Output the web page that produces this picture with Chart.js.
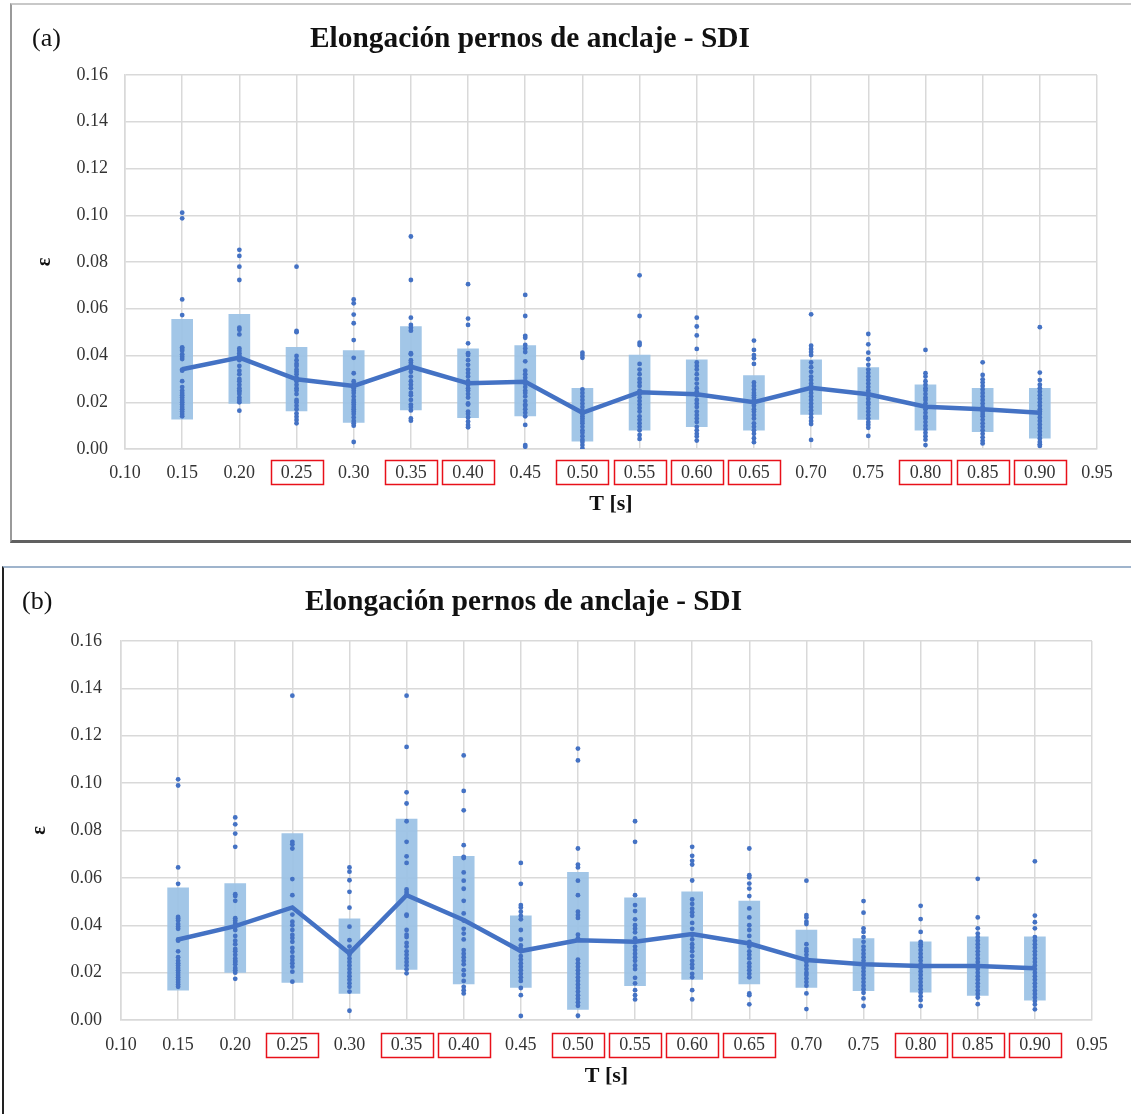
<!DOCTYPE html>
<html>
<head>
<meta charset="utf-8">
<script src="https://cdn.jsdelivr.net/npm/chart.js@4.4.1/dist/chart.umd.min.js"></script>
<style>
  body { margin: 0; background: #fff; }
  #wrap { position: relative; width: 1131px; height: 1114px; overflow: hidden; }
  canvas { position: absolute; left: 0; }
  #chartA { top: 0; }
  #chartB { top: 560px; }
  .frameA { position: absolute; left: 10px; top: 3px; width: 1121px; height: 535px;
            border-left: 2px solid #9a9a9a; border-top: 2px solid #c8c8c8; border-bottom: 3px solid #606060; }
  .frameB { position: absolute; left: 2px; top: 566px; width: 1129px; height: 548px;
            border-left: 2px solid #222; border-top: 2px solid #9fb4cc; }
</style>
</head>
<body>
<div id="wrap">
  <div class="frameA"></div>
  <div class="frameB"></div>
  <canvas id="chartA" width="1131" height="540"></canvas>
  <canvas id="chartB" width="1131" height="554"></canvas>
</div>
<script>
// periods T [s]
const periods = [0.15, 0.20, 0.25, 0.30, 0.35, 0.40, 0.45, 0.50, 0.55, 0.60, 0.65, 0.70, 0.75, 0.80, 0.85, 0.90];
// tick labels framed in red
const flagged = [0.25, 0.35, 0.40, 0.50, 0.55, 0.60, 0.65, 0.80, 0.85, 0.90];

// panel (a)
const meanA = [0.0341, 0.0391, 0.0298, 0.0270, 0.0352, 0.0281, 0.0288, 0.0155, 0.0243, 0.0234, 0.0200, 0.0262, 0.0234, 0.0181, 0.0170, 0.0155];
const lowA  = [0.0128, 0.0195, 0.0163, 0.0114, 0.0167, 0.0134, 0.0141, 0.0034, 0.0081, 0.0096, 0.0081, 0.0148, 0.0127, 0.0081, 0.0074, 0.0046];
const highA = [0.0555, 0.0576, 0.0435, 0.0421, 0.0524, 0.0429, 0.0442, 0.0260, 0.0402, 0.0381, 0.0314, 0.0381, 0.0348, 0.0274, 0.0260, 0.0260];
const pointsA = [
  [0.1011, 0.0987, 0.064, 0.0573, 0.0435, 0.0428, 0.042, 0.0405, 0.0395, 0.0385, 0.034, 0.0335, 0.029, 0.0265, 0.025, 0.024, 0.023, 0.022, 0.021, 0.020, 0.019, 0.018, 0.017, 0.016, 0.015, 0.014],
  [0.0852, 0.0826, 0.078, 0.0723, 0.0519, 0.051, 0.049, 0.043, 0.042, 0.041, 0.040, 0.038, 0.0355, 0.0335, 0.032, 0.030, 0.029, 0.0275, 0.026, 0.025, 0.0245, 0.0235, 0.022, 0.021, 0.020, 0.0164],
  [0.078, 0.0505, 0.050, 0.0398, 0.038, 0.0365, 0.0355, 0.034, 0.033, 0.032, 0.0305, 0.030, 0.029, 0.0275, 0.026, 0.025, 0.0235, 0.021, 0.020, 0.0185, 0.017, 0.0152, 0.0138, 0.0124, 0.011],
  [0.064, 0.0623, 0.0575, 0.0538, 0.0466, 0.039, 0.0324, 0.029, 0.0278, 0.027, 0.026, 0.025, 0.024, 0.0225, 0.021, 0.020, 0.019, 0.018, 0.017, 0.016, 0.015, 0.0135, 0.012, 0.011, 0.010, 0.003],
  [0.0909, 0.0723, 0.0562, 0.0531, 0.0519, 0.0506, 0.041, 0.0405, 0.038, 0.037, 0.036, 0.0345, 0.033, 0.031, 0.029, 0.0275, 0.026, 0.024, 0.023, 0.021, 0.019, 0.018, 0.0165, 0.0131, 0.0121],
  [0.0705, 0.0558, 0.0531, 0.0452, 0.041, 0.0402, 0.038, 0.036, 0.034, 0.0325, 0.031, 0.029, 0.0275, 0.026, 0.025, 0.0235, 0.022, 0.0195, 0.019, 0.016, 0.015, 0.0135, 0.0118, 0.0103, 0.0093],
  [0.0659, 0.0569, 0.0484, 0.0476, 0.0445, 0.043, 0.0415, 0.0375, 0.0335, 0.032, 0.0305, 0.029, 0.028, 0.0265, 0.025, 0.024, 0.0225, 0.0205, 0.019, 0.0185, 0.017, 0.0155, 0.014, 0.0103, 0.0017, 0.001],
  [0.0412, 0.0402, 0.039, 0.0255, 0.024, 0.0225, 0.021, 0.0195, 0.018, 0.0165, 0.016, 0.015, 0.014, 0.013, 0.012, 0.011, 0.0095, 0.008, 0.007, 0.0055, 0.004, 0.003, 0.0017, 0.0003],
  [0.0743, 0.0569, 0.0455, 0.0445, 0.0364, 0.034, 0.032, 0.030, 0.0285, 0.027, 0.025, 0.024, 0.0235, 0.022, 0.0205, 0.019, 0.0175, 0.016, 0.014, 0.0125, 0.011, 0.0095, 0.008, 0.006, 0.0043],
  [0.0562, 0.0524, 0.0486, 0.0428, 0.037, 0.0355, 0.034, 0.032, 0.030, 0.028, 0.026, 0.0245, 0.023, 0.021, 0.0195, 0.018, 0.016, 0.0145, 0.013, 0.0115, 0.0095, 0.008, 0.0065, 0.0053, 0.0036],
  [0.0464, 0.0424, 0.0402, 0.0388, 0.0364, 0.0285, 0.027, 0.0255, 0.024, 0.023, 0.022, 0.021, 0.0195, 0.0185, 0.017, 0.016, 0.0145, 0.013, 0.011, 0.0095, 0.008, 0.0065, 0.0046, 0.0029],
  [0.0576, 0.0442, 0.0428, 0.0415, 0.0402, 0.037, 0.035, 0.033, 0.031, 0.0295, 0.028, 0.027, 0.0255, 0.024, 0.0225, 0.021, 0.0195, 0.018, 0.0165, 0.015, 0.0135, 0.012, 0.0107, 0.0039],
  [0.0492, 0.0448, 0.0412, 0.0384, 0.036, 0.034, 0.0325, 0.031, 0.0295, 0.028, 0.0265, 0.025, 0.024, 0.023, 0.0215, 0.020, 0.019, 0.0175, 0.016, 0.0145, 0.013, 0.0115, 0.0104, 0.0091, 0.0056],
  [0.0424, 0.0324, 0.031, 0.029, 0.0275, 0.026, 0.025, 0.0235, 0.022, 0.021, 0.0195, 0.018, 0.017, 0.0155, 0.014, 0.013, 0.0115, 0.010, 0.0085, 0.007, 0.0055, 0.004, 0.0017],
  [0.0371, 0.0317, 0.0298, 0.0285, 0.027, 0.0255, 0.024, 0.0225, 0.021, 0.0195, 0.018, 0.017, 0.016, 0.015, 0.014, 0.0125, 0.011, 0.0095, 0.008, 0.0065, 0.005, 0.0035, 0.0024],
  [0.0521, 0.0327, 0.0295, 0.0275, 0.026, 0.0245, 0.023, 0.0215, 0.020, 0.0185, 0.017, 0.016, 0.015, 0.0135, 0.012, 0.0105, 0.009, 0.0075, 0.006, 0.0045, 0.003, 0.002, 0.0013]
];

// panel (b)
const meanB = [0.0340, 0.0396, 0.0475, 0.0281, 0.0527, 0.0422, 0.0291, 0.0337, 0.0330, 0.0363, 0.0323, 0.0253, 0.0235, 0.0228, 0.0228, 0.0218];
const lowB  = [0.0126, 0.0201, 0.0159, 0.0112, 0.0214, 0.0152, 0.0138, 0.0045, 0.0145, 0.0171, 0.0152, 0.0138, 0.0124, 0.0117, 0.0104, 0.0084];
const highB = [0.0558, 0.0576, 0.0787, 0.0427, 0.0848, 0.0691, 0.0440, 0.0623, 0.0516, 0.0541, 0.0502, 0.0380, 0.0344, 0.0330, 0.0351, 0.0351];
const pointsB = [
  [0.1016, 0.099, 0.0644, 0.0575, 0.0435, 0.0428, 0.042, 0.0405, 0.0395, 0.0385, 0.034, 0.0335, 0.029, 0.0265, 0.025, 0.024, 0.023, 0.022, 0.021, 0.020, 0.019, 0.018, 0.017, 0.016, 0.015, 0.014],
  [0.0855, 0.0826, 0.0787, 0.0731, 0.0531, 0.0523, 0.0503, 0.043, 0.042, 0.041, 0.040, 0.038, 0.0355, 0.0335, 0.032, 0.030, 0.029, 0.0275, 0.026, 0.025, 0.0245, 0.0235, 0.022, 0.021, 0.020, 0.0174],
  [0.1369, 0.0752, 0.0742, 0.0724, 0.0595, 0.0527, 0.0445, 0.0415, 0.040, 0.038, 0.0359, 0.0346, 0.033, 0.0304, 0.0288, 0.0267, 0.0253, 0.024, 0.0225, 0.0204, 0.0162],
  [0.0644, 0.0626, 0.059, 0.0541, 0.0474, 0.0394, 0.0337, 0.031, 0.029, 0.0275, 0.026, 0.0245, 0.023, 0.0215, 0.020, 0.0185, 0.017, 0.0155, 0.014, 0.012, 0.0039],
  [0.1369, 0.1153, 0.0961, 0.0914, 0.0839, 0.0752, 0.0691, 0.0663, 0.0551, 0.054, 0.053, 0.0445, 0.044, 0.038, 0.036, 0.035, 0.0325, 0.031, 0.029, 0.0275, 0.026, 0.0245, 0.023, 0.0214, 0.0197],
  [0.1117, 0.0967, 0.0885, 0.0738, 0.0689, 0.0684, 0.0623, 0.0588, 0.0554, 0.0503, 0.045, 0.042, 0.0385, 0.0365, 0.034, 0.0295, 0.028, 0.0265, 0.025, 0.0235, 0.021, 0.019, 0.0165, 0.014, 0.0126, 0.0112],
  [0.0663, 0.0575, 0.0485, 0.0475, 0.0457, 0.044, 0.0425, 0.038, 0.034, 0.0315, 0.030, 0.029, 0.027, 0.0255, 0.024, 0.0225, 0.021, 0.0195, 0.018, 0.0165, 0.0135, 0.0105, 0.0017],
  [0.1146, 0.1096, 0.0724, 0.0656, 0.0644, 0.0588, 0.0527, 0.0457, 0.0443, 0.0431, 0.036, 0.0345, 0.0255, 0.024, 0.0225, 0.021, 0.0195, 0.018, 0.0165, 0.015, 0.0135, 0.012, 0.0105, 0.009, 0.0075, 0.006, 0.0018],
  [0.0839, 0.0752, 0.0527, 0.0485, 0.046, 0.0425, 0.040, 0.0385, 0.037, 0.0345, 0.033, 0.031, 0.0295, 0.028, 0.0265, 0.025, 0.023, 0.0215, 0.0178, 0.0155, 0.0126, 0.0105, 0.0087],
  [0.0731, 0.0693, 0.0672, 0.0656, 0.0589, 0.0509, 0.049, 0.047, 0.0455, 0.044, 0.041, 0.0385, 0.036, 0.034, 0.032, 0.0305, 0.029, 0.027, 0.025, 0.0235, 0.022, 0.0195, 0.018, 0.0126, 0.0087],
  [0.0724, 0.0611, 0.0602, 0.0576, 0.0555, 0.0523, 0.0471, 0.0433, 0.040, 0.038, 0.0355, 0.033, 0.031, 0.029, 0.0275, 0.026, 0.024, 0.0225, 0.021, 0.0195, 0.018, 0.0112, 0.0105, 0.0066],
  [0.0588, 0.0443, 0.0433, 0.0415, 0.0405, 0.032, 0.030, 0.029, 0.0275, 0.026, 0.0245, 0.023, 0.0215, 0.020, 0.019, 0.0175, 0.016, 0.0145, 0.0112, 0.0046],
  [0.0502, 0.0453, 0.0387, 0.0372, 0.035, 0.033, 0.031, 0.0295, 0.028, 0.0265, 0.025, 0.0235, 0.022, 0.0205, 0.019, 0.0175, 0.016, 0.0145, 0.013, 0.0115, 0.0091, 0.0059],
  [0.0482, 0.0426, 0.0372, 0.033, 0.032, 0.031, 0.0295, 0.028, 0.0265, 0.025, 0.0235, 0.022, 0.0205, 0.019, 0.0175, 0.016, 0.0145, 0.013, 0.0115, 0.010, 0.0084, 0.0059],
  [0.0596, 0.0433, 0.0387, 0.0365, 0.035, 0.0335, 0.032, 0.0305, 0.029, 0.0275, 0.026, 0.0245, 0.023, 0.0215, 0.020, 0.0185, 0.017, 0.0155, 0.014, 0.0125, 0.011, 0.0095, 0.0067],
  [0.067, 0.0441, 0.0413, 0.0387, 0.035, 0.0335, 0.032, 0.0305, 0.029, 0.0275, 0.026, 0.0245, 0.023, 0.0215, 0.020, 0.0185, 0.017, 0.0155, 0.014, 0.0125, 0.011, 0.0095, 0.008, 0.0065, 0.0045]
];

const titleText = "Elongación pernos de anclaje - SDI";
const serif = "'Liberation Serif', 'Times New Roman', serif";
const blue = "#4472C4";

// title, panel tag and red frames round some tick labels
const decor = {
  id: "decor",
  afterDraw(chart, args, o) {
    const ctx = chart.ctx;
    ctx.save();
    ctx.fillStyle = "#111";
    ctx.textBaseline = "middle";
    ctx.font = "26px " + serif;
    ctx.textAlign = "left";
    ctx.fillText(o.tag, o.tagX, o.titleY);
    ctx.font = "bold 26px " + serif;
    const w = ctx.measureText(titleText).width;
    ctx.translate(o.titleX, o.titleY);
    ctx.scale(o.titleW / w, 1.12);
    ctx.fillText(titleText, 0, 0);
    ctx.restore();

    const xs = chart.scales.x;
    const top = chart.chartArea.bottom + o.boxTop;
    ctx.save();
    ctx.strokeStyle = "#e8101a";
    ctx.lineWidth = 1.5;
    flagged.forEach(v => {
      const px = xs.getPixelForValue(v);
      ctx.strokeRect(Math.round(px - 26) + 0.5, Math.round(top) + 0.5, 52, 24);
    });
    ctx.restore();
  }
};

function makeChart(id, means, lows, highs, pts, lay) {
  const scatter = [];
  pts.forEach((list, i) => list.forEach(v => scatter.push({x: periods[i], y: v})));
  new Chart(document.getElementById(id), {
    type: "bar",
    data: {
      datasets: [
        {
          type: "line",
          data: periods.map((t, i) => ({x: t, y: means[i]})),
          borderColor: blue,
          borderWidth: 4.5,
          pointRadius: 0,
          tension: 0,
          order: 0
        },
        {
          type: "scatter",
          data: scatter,
          backgroundColor: blue,
          borderColor: blue,
          pointRadius: 2.4,
          borderWidth: 0,
          order: 1
        },
        {
          type: "bar",
          data: periods.map((t, i) => ({x: t, y: [lows[i], highs[i]]})),
          backgroundColor: "rgba(157, 195, 230, 0.95)",
          borderWidth: 0,
          barThickness: 21,
          order: 2
        }
      ]
    },
    options: {
      responsive: false,
      animation: false,
      layout: { padding: { left: 0, right: lay.right, top: lay.top, bottom: 0 } },
      plugins: {
        legend: { display: false },
        tooltip: { enabled: false },
        decor: lay.decor
      },
      scales: {
        x: {
          type: "linear",
          min: 0.10,
          max: 0.95,
          offset: false,
          grid: { color: "#d9d9d9", lineWidth: 1.5, drawTicks: false, offset: false },
          border: { color: "#d9d9d9", width: 1.5 },
          ticks: {
            stepSize: 0.05,
            padding: lay.xPad,
            color: "#333",
            font: { family: serif, size: 18 },
            maxRotation: 0,
            autoSkip: false,
            callback: v => v.toFixed(2)
          },
          title: {
            display: true,
            text: "T [s]",
            color: "#111",
            font: { family: serif, size: 22, weight: "bold" },
            padding: { top: 0, bottom: lay.xTitlePad }
          },
          afterFit: s => { s.height = lay.xHeight; }
        },
        y: {
          min: 0,
          max: 0.16,
          grid: { color: "#d9d9d9", lineWidth: 1.5, drawTicks: false },
          border: { color: "#d9d9d9", width: 1.5 },
          ticks: {
            stepSize: 0.02,
            padding: lay.yPad,
            color: "#333",
            font: { family: serif, size: 18 },
            callback: v => v.toFixed(2)
          },
          title: {
            display: true,
            text: "ε",
            color: "#111",
            font: { family: serif, size: 20, weight: "bold" },
            padding: { top: lay.yTitlePad, bottom: 0 }
          },
          afterFit: s => { s.width = lay.yWidth; }
        }
      }
    },
    plugins: [decor]
  });
}

makeChart("chartA", meanA, lowA, highA, pointsA, {
  right: 34, top: 75, xHeight: 91, yWidth: 125, xPad: 13, xTitlePad: 22, yPad: 17, yTitlePad: 33,
  decor: { tag: "(a)", tagX: 32, titleX: 310, titleY: 39, titleW: 440, boxTop: 11 }
});
makeChart("chartB", meanB, lowB, highB, pointsB, {
  right: 39, top: 81, xHeight: 94, yWidth: 121, xPad: 14, xTitlePad: 24, yPad: 19, yTitlePad: 28,
  decor: { tag: "(b)", tagX: 22, titleX: 305, titleY: 42, titleW: 437, boxTop: 13 }
});
</script>
</body>
</html>
